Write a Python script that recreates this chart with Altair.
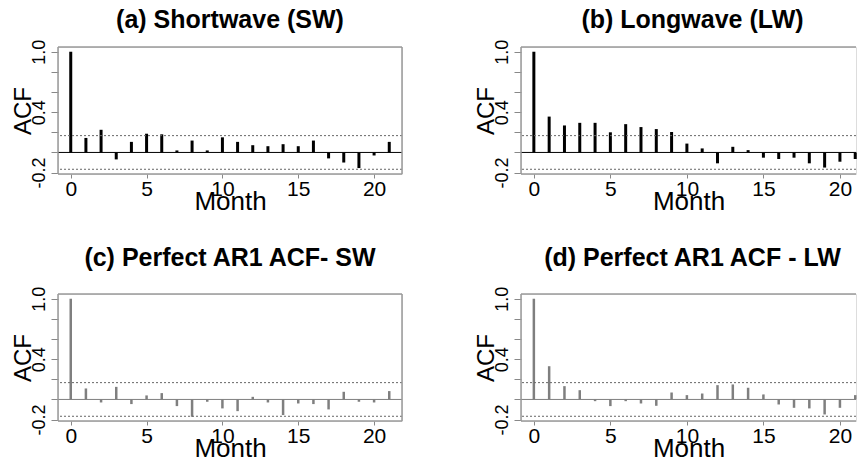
import altair as alt
import pandas as pd

# ---------------- data ----------------
lags = list(range(22))
acf_sw = [1.0, 0.144, 0.225, -0.069, 0.105, 0.186, 0.18, 0.02, 0.118, 0.02, 0.15,
          0.105, 0.072, 0.062, 0.082, 0.062, 0.118, -0.059, -0.10, -0.155, -0.03, 0.105]
acf_lw = [1.0, 0.356, 0.268, 0.294, 0.294, 0.20, 0.281, 0.252, 0.232, 0.203, 0.088,
          0.04, -0.108, 0.056, 0.023, -0.052, -0.065, -0.052, -0.108, -0.15, -0.092, -0.065]
acf_ar1_sw = [1.0, 0.109, -0.03, 0.125, -0.046, 0.04, 0.063, -0.066, -0.172, -0.023, -0.089,
              -0.116, 0.026, -0.03, -0.155, -0.04, -0.046, -0.099, 0.076, -0.023, -0.03, 0.083]
acf_ar1_lw = [1.0, 0.33, 0.132, 0.092, -0.017, -0.066, -0.017, -0.04, -0.063, 0.069, 0.043,
              0.059, 0.142, 0.149, 0.116, 0.05, -0.05, -0.083, -0.089, -0.149, -0.083, 0.043]
ci_bounds = [0.167, -0.167]
titles = ["(a) Shortwave (SW)", "(b) Longwave (LW)",
          "(c) Perfect AR1 ACF- SW", "(d) Perfect AR1 ACF - LW"]
y_ticks = [-0.2, 0.0, 0.2, 0.4, 0.6, 0.8, 1.0]
y_labelled = ["-0.2", "0.4", "1.0"]
x_ticks = [0, 5, 10, 15, 20]

FONT = "Liberation Sans"
Y_DOMAIN = [-0.214, 1.047]
H = 127

label_expr = " : ".join(
    f"abs(datum.value - ({float(s)})) < 0.01 ? '{s}'" for s in y_labelled
) + " : ''"


def panel(values, title, color, bar_w, xmax, width, right_border, title_offset, title_dx):
    df = pd.DataFrame({"lag": lags, "acf": values, "base": [0.0] * len(lags)})
    xs = alt.Scale(domain=[-0.84, xmax], nice=False, zero=False)
    ys = alt.Scale(domain=Y_DOMAIN, nice=False, zero=False)
    xaxis = alt.Axis(values=x_ticks, format="d", title="Month", domain=False, grid=False,
                     tickSize=4, tickColor="#888888", labelPadding=0, labelFont=FONT,
                     labelFontSize=21, labelColor="black", labelBaseline="top",
                     titleFont=FONT, titleFontSize=26, titleFontWeight="normal",
                     titleColor="black", titleY=35, titleBaseline="alphabetic")
    yaxis = alt.Axis(values=y_ticks, labelExpr=label_expr, title="ACF", domain=False,
                     grid=False, tickSize=7, tickColor="#888888", labelPadding=7,
                     labelAngle=270, labelAlign="center", labelBaseline="alphabetic",
                     labelFont=FONT, labelFontSize=18, labelColor="black",
                     titleFont=FONT, titleFontSize=24, titleFontWeight="normal",
                     titleColor="black", titleAngle=270, titleBaseline="alphabetic",
                     titleX=-28)
    bars = alt.Chart(df).mark_rule(color=color, strokeWidth=bar_w, strokeCap="butt").encode(
        x=alt.X("lag:Q", scale=xs, axis=xaxis),
        y=alt.Y("acf:Q", scale=ys, axis=yaxis),
        y2="base:Q",
    )
    zero = alt.Chart(pd.DataFrame({"acf": [0.0]})).mark_rule(color=color, strokeWidth=1).encode(
        y=alt.Y("acf:Q", scale=ys, axis=yaxis))
    ci = alt.Chart(pd.DataFrame({"acf": ci_bounds})).mark_rule(
        color="#666666", strokeWidth=1, strokeDash=[2, 2]).encode(
        y=alt.Y("acf:Q", scale=ys, axis=yaxis))
    box_col = "#9a9a9a"
    one = pd.DataFrame({"k": [0]})
    top = alt.Chart(one).mark_rule(color=box_col, strokeWidth=1.5).encode(y=alt.value(0))
    bottom = alt.Chart(one).mark_rule(color=box_col, strokeWidth=1.5).encode(y=alt.value(H))
    left = alt.Chart(one).mark_rule(color=box_col, strokeWidth=1.5).encode(x=alt.value(0))
    layers = [bars, ci, zero, top, bottom, left]
    if right_border:
        rightb = alt.Chart(one).mark_rule(color=box_col, strokeWidth=1.5).encode(
            x=alt.value(width))
        layers.append(rightb)
    return alt.layer(*layers).properties(
        width=width, height=H,
        title=alt.TitleParams(title, font=FONT, fontSize=25, fontWeight="bold", color="black",
                              anchor="middle", frame="group", baseline="alphabetic",
                              offset=title_offset, dx=title_dx),
    )


pa = panel(acf_sw, titles[0], "black", 3, 21.84, 344, True, -14, 0)
pb = panel(acf_lw, titles[1], "black", 3, 21.05, 335, False, -14, 4)
pc = panel(acf_ar1_sw, titles[2], "#7f7f7f", 2.5, 21.84, 344, True, -5, 0)
pd_ = panel(acf_ar1_lw, titles[3], "#7f7f7f", 2.5, 21.05, 335, False, -5, 4)

chart = alt.concat(pa, pb, pc, pd_, columns=2, spacing={"row": 120, "column": 119},
                   bounds="flush").properties(
    padding={"left": 10, "top": 7, "right": 0, "bottom": 0}
).configure_view(stroke=None).configure(background="white")

chart.save("out.html", embed_options={"renderer": "svg", "actions": False})
